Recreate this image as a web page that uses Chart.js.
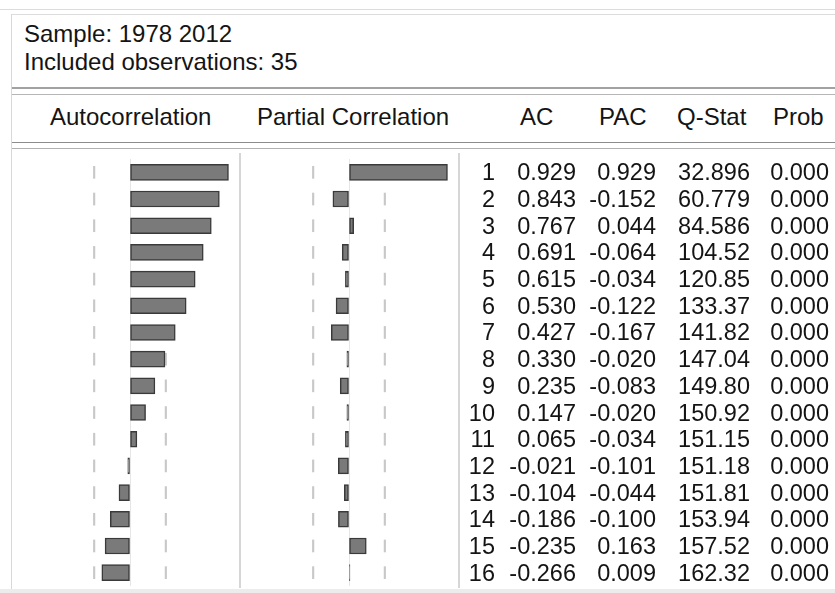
<!DOCTYPE html>
<html>
<head>
<meta charset="utf-8">
<title>Correlogram</title>
<script src="https://cdn.jsdelivr.net/npm/chart.js@4.4.0/dist/chart.umd.min.js"></script>
<style>
  html, body { margin: 0; padding: 0; background: #fff; }
  body {
    width: 835px; height: 593px; position: relative; overflow: hidden;
    font-family: "Liberation Sans", Arial, sans-serif; color: #141414;
  }
  .rule { position: absolute; }
  .txt { position: absolute; font-size: 24px; line-height: 28px; white-space: nowrap; }
  .num { position: absolute; font-size: 23.5px; line-height: 28px; white-space: nowrap; text-align: right; width: 100px; }
  canvas { position: absolute; }
</style>
</head>
<body>

<!-- frame and rules -->
<div class="rule" style="left:0;top:9px;width:835px;height:1px;background:#dcdcdc"></div>
<div class="rule" style="left:11px;top:14px;width:824px;height:1px;background:#dcdcdc"></div>
<div class="rule" style="left:11px;top:14px;width:1px;height:576px;background:#d8d8d8"></div>
<div class="rule" style="left:12px;top:87px;width:823px;height:2px;background:#a2a2a2"></div>
<div class="rule" style="left:12px;top:94px;width:823px;height:1px;background:#b6b6b6"></div>
<div class="rule" style="left:12px;top:142px;width:823px;height:1px;background:#8c8c8c"></div>
<div class="rule" style="left:12px;top:148px;width:823px;height:1px;background:#b0b0b0"></div>
<div class="rule" style="left:239px;top:153px;width:2px;height:435px;background:#d6d6d6"></div>
<div class="rule" style="left:458px;top:153px;width:2px;height:435px;background:#d6d6d6"></div>
<div class="rule" style="left:0;top:589px;width:835px;height:4px;background:#ececec"></div>

<!-- sample information -->
<div class="txt" style="left:24px;top:20px">Sample: 1978 2012<br>Included observations: <span id="nobs"></span></div>

<!-- column headings -->
<div class="txt" style="left:50px;top:103px">Autocorrelation</div>
<div class="txt" style="left:257px;top:103px">Partial Correlation</div>
<div class="txt" style="left:520px;top:103px">AC</div>
<div class="txt" style="left:599px;top:103px">PAC</div>
<div class="txt" style="left:677px;top:103px">Q-Stat</div>
<div class="txt" style="left:773px;top:103px">Prob</div>

<canvas id="acf" width="212" height="427" style="left:24px;top:159px"></canvas>
<canvas id="pacf" width="212" height="427" style="left:243px;top:159px"></canvas>

<div id="rows"></div>

<script>
// Correlogram of the series, lags 1-16
const observations = 35;
const lags = [1, 2, 3, 4, 5, 6, 7, 8, 9, 10, 11, 12, 13, 14, 15, 16];
const ac = [0.929, 0.843, 0.767, 0.691, 0.615, 0.530, 0.427, 0.330,
            0.235, 0.147, 0.065, -0.021, -0.104, -0.186, -0.235, -0.266];
const pac = [0.929, -0.152, 0.044, -0.064, -0.034, -0.122, -0.167, -0.020,
             -0.083, -0.020, -0.034, -0.101, -0.044, -0.100, 0.163, 0.009];
const qStat = [32.896, 60.779, 84.586, 104.52, 120.85, 133.37, 141.82, 147.04,
               149.80, 150.92, 151.15, 151.18, 151.81, 153.94, 157.52, 162.32];
const prob = [0.000, 0.000, 0.000, 0.000, 0.000, 0.000, 0.000, 0.000,
              0.000, 0.000, 0.000, 0.000, 0.000, 0.000, 0.000, 0.000];

// approximate 95% band, +/- 2/sqrt(T)
const band = 2 / Math.sqrt(observations);
const tick = 0.007;

document.getElementById('nobs').textContent = observations;

function bandMarks(centre) {
  return {
    data: lags.map(() => [centre - tick, centre + tick]),
    backgroundColor: '#c8c8c8',
    borderWidth: 0,
    barThickness: 12,
    grouped: false,
    order: 1
  };
}

function correlogram(id, values) {
  return new Chart(document.getElementById(id), {
    type: 'bar',
    data: {
      labels: lags,
      datasets: [
        {
          data: values,
          backgroundColor: '#7a7a7a',
          borderColor: '#3a3a3a',
          borderWidth: 1.5,
          borderSkipped: false,
          barThickness: 16,
          grouped: false,
          order: 0
        },
        bandMarks(band),
        bandMarks(-band)
      ]
    },
    options: {
      indexAxis: 'y',
      responsive: false,
      animation: false,
      devicePixelRatio: 1,
      layout: { padding: 0 },
      plugins: { legend: { display: false }, tooltip: { enabled: false } },
      scales: {
        x: {
          min: -1, max: 1,
          ticks: { display: false, stepSize: 1 },
          border: { display: false },
          grid: {
            drawTicks: false,
            lineWidth: 1,
            color: c => (c.tick && c.tick.value === 0) ? '#e6e6e6' : 'rgba(0,0,0,0)'
          }
        },
        y: { display: false }
      }
    }
  });
}

const acfChart = correlogram('acf', ac);
correlogram('pacf', pac);

// numeric table, one line per lag, aligned on the bar rows
const canvasTop = 159;
const columns = [
  { right: 495, fmt: i => String(lags[i]) },
  { right: 576, fmt: i => ac[i].toFixed(3) },
  { right: 656, fmt: i => pac[i].toFixed(3) },
  { right: 750, fmt: i => qStat[i].toPrecision(5) },
  { right: 829, fmt: i => prob[i].toFixed(3) }
];
const rows = document.getElementById('rows');
const yScale = acfChart.scales.y;
lags.forEach((lag, i) => {
  const centre = canvasTop + yScale.getPixelForValue(i);
  columns.forEach(col => {
    const d = document.createElement('div');
    d.className = 'num';
    d.style.left = (col.right - 100) + 'px';
    d.style.top = (centre - 14) + 'px';
    d.textContent = col.fmt(i);
    rows.appendChild(d);
  });
});
</script>
</body>
</html>
